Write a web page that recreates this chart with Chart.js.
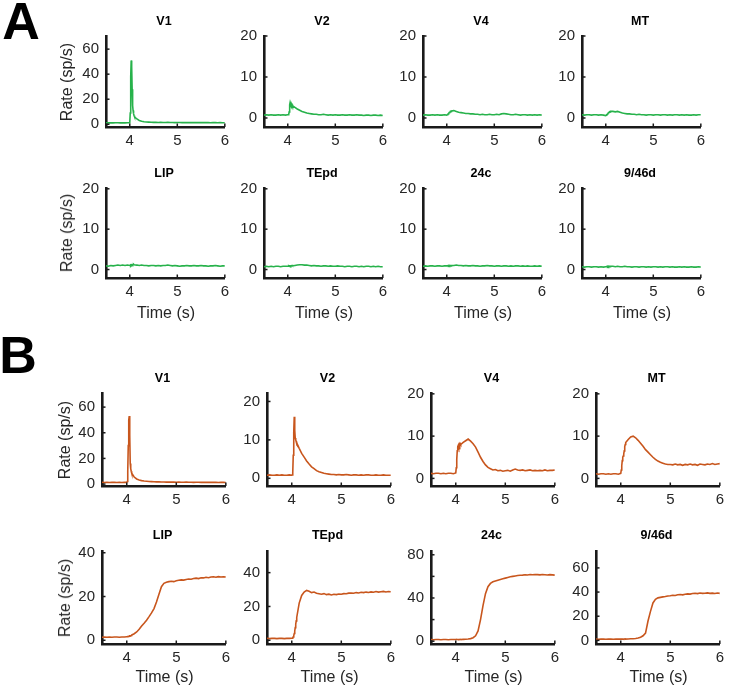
<!DOCTYPE html>
<html>
<head>
<meta charset="utf-8">
<script src="https://cdn.jsdelivr.net/npm/chart.js@4.4.0/dist/chart.umd.min.js"></script>
<style>
  body { margin: 0; background: #fff; width: 730px; height: 689px; position: relative; overflow: hidden;
         font-family: "Liberation Sans", Arial, sans-serif; }
  .box { position: absolute; }
  .txt { position: absolute; color: #262626; white-space: nowrap; transform: translate(-50%, -50%); line-height: 1; }
  .ttl { font-weight: bold; font-size: 12.5px; color: #000; }
  .axt { font-size: 16px; }
  .rot { transform: translate(-50%, -50%) rotate(-90deg); }
  .panel { font-weight: bold; font-size: 52px; color: #000; }
</style>
</head>
<body>
<script>
// time axis (s), shared by every trace
const time = [3.5,3.55,3.6,3.65,3.7,3.75,3.8,3.85,3.9,3.95,4.0,
  4.01,4.02,4.03,4.04,4.05,4.06,4.07,4.08,4.09,4.1,
  4.15,4.2,4.25,4.3,4.35,4.4,4.45,4.5,4.55,4.6,4.65,4.7,4.75,4.8,4.85,4.9,4.95,5.0,
  5.05,5.1,5.15,5.2,5.25,5.3,5.35,5.4,5.45,5.5,5.55,5.6,5.65,5.7,5.75,5.8,5.85,5.9,5.95,6.0];

const areas = ["V1", "V2", "V4", "MT", "LIP", "TEpd", "24c", "9/46d"];

// panel A rates (sp/s)
const aV1 = [1.2,1.1,1.2,1.1,1.2,1.2,1.1,1.2,1.1,1.2,1.3,
  9,38,51,46,28,15,11,8.5,7,6,
  4.2,3.0,2.4,2.0,1.8,1.7,1.6,1.5,1.5,1.4,1.5,1.4,1.4,1.5,1.4,1.4,1.3,1.4,1.4,1.3,
  1.4,1.3,1.4,1.3,1.3,1.4,1.3,1.3,1.4,1.3,1.3,1.2,1.3,1.3,1.2,1.3,1.2,1.2];
const aV2 = [0.7,0.8,0.7,0.8,0.7,0.7,0.8,0.7,0.8,0.7,0.8,
  0.8,0.9,1.5,3.2,3.8,3.4,3.6,3.2,3.3,3.0,
  2.6,2.2,1.9,1.6,1.4,1.2,1.1,1.0,0.9,0.9,0.8,0.8,0.9,0.8,0.7,0.8,0.7,0.8,0.7,0.7,
  0.8,0.7,0.7,0.8,0.7,0.7,0.8,0.7,0.7,0.6,0.7,0.7,0.6,0.7,0.7,0.6,0.7,0.6];
const aV4 = [0.7,0.8,0.7,0.7,0.8,0.7,0.8,0.7,0.7,0.8,0.7,
  0.8,0.9,1.0,1.1,1.3,1.4,1.5,1.6,1.6,1.7,
  1.8,1.6,1.4,1.3,1.2,1.1,1.1,1.0,1.0,0.9,0.9,0.8,0.9,0.8,0.8,0.9,0.8,0.8,0.9,0.8,
  1.0,1.1,1.0,0.9,0.8,0.8,0.9,0.8,0.7,0.8,0.8,0.7,0.8,0.7,0.8,0.7,0.8,0.7];
const aMT = [0.8,0.7,0.8,0.8,0.7,0.8,0.8,0.7,0.8,0.7,0.6,
  0.7,0.8,0.9,1.0,1.2,1.3,1.4,1.5,1.5,1.6,
  1.6,1.5,1.6,1.4,1.2,1.1,1.0,1.0,0.9,0.9,0.8,0.9,0.8,0.8,0.7,0.8,0.8,0.7,0.8,0.8,
  0.7,0.8,0.8,0.7,0.8,0.7,0.8,0.8,0.7,0.8,0.7,0.8,0.7,0.7,0.8,0.7,0.8,0.8];
const aLIP = [0.9,0.8,1.0,0.9,1.0,1.1,1.0,1.1,1.0,1.1,1.0,
  1.1,1.0,1.2,1.1,1.2,1.1,1.2,1.3,1.2,1.2,
  1.1,1.0,1.1,1.0,1.0,0.9,1.0,1.0,0.9,1.0,0.9,1.0,1.0,1.1,1.0,0.9,1.0,0.9,0.8,0.9,
  0.9,1.0,0.9,0.9,1.0,0.9,0.9,1.0,0.9,0.9,0.8,0.9,0.9,1.0,0.9,0.8,0.9,0.9];
const aTEpd = [0.7,0.8,0.7,0.8,0.7,0.8,0.8,0.7,0.8,0.8,0.8,
  0.8,0.9,0.8,0.9,0.9,0.8,0.9,0.9,1.0,0.9,
  1.0,1.1,1.2,1.2,1.1,1.1,1.0,0.9,1.0,0.9,0.9,0.8,0.9,0.9,0.8,0.9,0.8,0.8,0.9,0.8,
  0.8,0.7,0.8,0.8,0.7,0.8,0.8,0.7,0.8,0.7,0.8,0.8,0.7,0.8,0.7,0.8,0.7,0.7];
const a24c = [0.8,0.9,0.8,0.9,0.9,0.8,0.9,0.9,0.8,0.9,0.9,
  0.9,0.9,1.0,0.9,1.0,0.9,1.0,1.0,0.9,1.0,
  1.0,1.1,1.0,1.0,0.9,1.0,0.9,0.9,1.0,0.9,0.9,0.8,0.9,0.9,1.0,0.9,0.9,0.8,0.9,0.9,
  0.8,0.9,0.9,0.8,0.9,0.8,0.9,0.9,0.8,0.9,0.8,0.9,0.8,0.8,0.9,0.8,0.9,0.8];
const a946d = [0.7,0.6,0.7,0.7,0.6,0.7,0.7,0.6,0.7,0.6,0.7,
  0.7,0.7,0.8,0.7,0.8,0.7,0.8,0.8,0.7,0.8,
  0.8,0.7,0.8,0.7,0.7,0.8,0.7,0.7,0.6,0.7,0.7,0.6,0.7,0.7,0.6,0.7,0.6,0.7,0.7,0.6,
  0.7,0.6,0.7,0.7,0.6,0.7,0.6,0.6,0.7,0.6,0.7,0.6,0.6,0.7,0.6,0.6,0.7,0.6];

// panel B rates (sp/s)
const bV1 = [1.3,1.2,1.3,1.2,1.3,1.3,1.2,1.3,1.2,1.3,1.3,
  2,10,30,50,53,38,16,12,10,8.5,
  5.5,4.0,3.2,2.7,2.4,2.2,2.0,1.9,1.8,1.7,1.7,1.6,1.6,1.5,1.6,1.5,1.5,1.4,1.5,1.4,
  1.4,1.5,1.4,1.4,1.3,1.4,1.4,1.3,1.4,1.3,1.3,1.4,1.3,1.3,1.2,1.3,1.3,1.2];
const bV2 = [0.8,0.9,0.8,0.8,0.9,0.8,0.9,0.8,0.8,0.9,0.8,
  0.9,1.5,6,12,16,12.5,10.5,10,9.6,9.2,
  7.8,6.5,5.5,4.5,3.7,3.0,2.5,2.0,1.7,1.5,1.3,1.2,1.1,1.0,1.0,0.9,1.0,0.9,0.9,1.0,
  0.9,0.8,0.9,0.9,0.8,0.9,0.8,0.9,0.9,0.8,0.8,0.9,0.8,0.8,0.9,0.8,0.8,0.8];
const bV4 = [1.2,1.1,1.2,1.2,1.1,1.2,1.1,1.2,1.2,1.1,1.3,
  2.5,4.5,6.5,7.5,7.8,7.4,8.0,7.7,8.2,8.0,
  8.5,8.9,9.3,8.8,8.2,7.4,6.2,5.0,4.0,3.2,2.6,2.3,2.0,2.1,1.8,1.9,1.7,1.8,1.9,1.7,
  2.0,2.2,2.0,1.9,2.0,1.8,1.9,2.0,1.8,1.9,1.8,1.9,1.8,2.0,1.8,1.9,1.9,2.0];
const bMT = [1.1,1.0,1.1,1.1,1.0,1.1,1.0,1.1,1.1,1.0,1.2,
  2.0,3.0,4.2,5.0,5.3,5.8,6.5,7.5,8.0,8.5,
  9.2,9.8,10.0,9.6,9.0,8.3,7.6,6.8,6.2,5.6,5.0,4.5,4.1,3.8,3.6,3.4,3.3,3.3,3.2,3.4,
  3.2,3.3,3.1,3.3,3.2,3.4,3.2,3.3,3.1,3.4,3.3,3.2,3.4,3.3,3.5,3.3,3.4,3.5];
const bLIP = [1.4,1.5,1.4,1.5,1.4,1.5,1.5,1.4,1.5,1.5,1.6,
  1.6,1.7,1.7,1.8,1.9,2.0,2.0,2.1,2.2,2.4,
  3.0,3.8,5.0,6.5,7.8,9.2,10.8,12.5,14.5,17.5,21,24.5,26.0,26.5,26.8,27.0,26.8,27.2,27.4,27.6,
  27.5,27.8,28.0,27.9,28.2,28.4,28.2,28.6,28.5,28.8,28.6,28.9,29.0,28.8,29.1,28.9,29.0,28.9];
const bTEpd = [1.1,1.0,1.1,1.1,1.0,1.1,1.1,1.0,1.1,1.1,1.2,
  1.3,1.5,2.0,2.8,4.0,5.5,7.5,9.5,11.5,13.5,
  22,26.5,28.5,29.5,29,28.2,28.5,27.8,27.5,27.2,27.6,27.0,27.3,26.8,27.2,27.0,27.4,27.2,27.6,27.5,
  27.9,28.0,27.8,28.2,28.0,28.4,28.2,28.5,28.3,28.6,28.4,28.8,28.5,28.7,28.9,28.6,28.8,28.7];
const b24c = [1.5,1.4,1.5,1.5,1.4,1.5,1.5,1.4,1.5,1.5,1.5,
  1.5,1.6,1.5,1.6,1.6,1.5,1.6,1.6,1.7,1.6,
  1.7,1.8,2.0,2.4,3.2,5.0,9.5,20,33,44,50.5,53.5,55,55.8,56.5,57.2,57.8,58.4,59.0,59.6,
  60.0,60.4,60.8,61.0,61.2,61.5,61.3,61.7,61.5,61.8,61.6,61.4,61.7,61.5,61.3,61.6,61.4,61.2];
const b946d = [1.0,0.9,1.0,1.0,0.9,1.0,1.0,0.9,1.0,1.0,1.0,
  1.0,1.1,1.0,1.1,1.1,1.0,1.1,1.1,1.2,1.1,
  1.2,1.3,1.4,1.6,2.0,2.6,3.8,6.0,16,24,31,34,35.2,35.6,36.0,36.3,36.8,37.0,37.4,37.2,
  37.8,38.0,37.7,38.2,38.5,38.3,38.8,39.0,38.7,39.2,38.9,39.0,39.3,38.9,39.1,38.8,39.2,38.9];

const seriesA = [aV1, aV2, aV4, aMT, aLIP, aTEpd, a24c, a946d];
const seriesB = [bV1, bV2, bV4, bMT, bLIP, bTEpd, b24c, b946d];

// axis ranges and ticks
const xTicks = [4, 5, 6];
const yRangeA = [[-2.2, 70.5], [-2.2, 20], [-2.2, 20], [-2.2, 20], [-2.1, 20.2], [-2.1, 20.2], [-2.1, 20.2], [-2.1, 20.2]];
const yTicksA = [[0, 20, 40, 60], [0, 10, 20], [0, 10, 20], [0, 10, 20], [0, 10, 20], [0, 10, 20], [0, 10, 20], [0, 10, 20]];
const yRangeB = [[-1.5, 71], [-2, 22.2], [-1.8, 20.2], [-1.8, 20.2], [-1.7, 40.8], [-2.2, 52.8], [-2.6, 83.5], [-3, 74]];
const yTicksB = [[0, 20, 40, 60], [0, 10, 20], [0, 10, 20], [0, 10, 20], [0, 20, 40], [0, 20, 40], [0, 20, 40, 60, 80], [0, 20, 40, 60]];
const yLabelsB = [[0, 20, 40, 60], [0, 10, 20], [0, 10, 20], [0, 10, 20], [0, 20, 40], [0, 20, 40], [0, 40, 80], [0, 20, 40, 60]];

const green = '#27b24b';
const orange = '#c8561d';
const axisColor = '#1a1a1a';
const tickFont = { family: '"Liberation Sans", Arial, sans-serif', size: 15 };

// small inward tick marks like the original figure
const inTicks = {
  id: 'inTicks',
  afterDraw(chart) {
    const { ctx, chartArea, scales } = chart;
    ctx.save();
    ctx.strokeStyle = axisColor;
    ctx.lineWidth = 1.5;
    scales.x.ticks.forEach(t => {
      const px = scales.x.getPixelForValue(t.value);
      ctx.beginPath(); ctx.moveTo(px, chartArea.bottom); ctx.lineTo(px, chartArea.bottom - 3.5); ctx.stroke();
    });
    scales.y.ticks.forEach(t => {
      const py = scales.y.getPixelForValue(t.value);
      ctx.beginPath(); ctx.moveTo(chartArea.left, py); ctx.lineTo(chartArea.left + 3.5, py); ctx.stroke();
    });
    ctx.restore();
  }
};

function addText(cls, text, x, y) {
  const d = document.createElement('div');
  d.className = 'txt ' + cls;
  d.textContent = text;
  d.style.left = x + 'px';
  d.style.top = y + 'px';
  document.body.appendChild(d);
}

function makePlot(left, top, w, h, values, color, yr, yt, yl) {
  const padL = 40, padT = 10, padR = 8, padB = 30;
  const box = document.createElement('div');
  box.className = 'box';
  box.style.left = (left - padL) + 'px';
  box.style.top = (top - padT) + 'px';
  box.style.width = (w + padL + padR) + 'px';
  box.style.height = (h + padT + padB) + 'px';
  const cv = document.createElement('canvas');
  box.appendChild(cv);
  document.body.appendChild(box);

  new Chart(cv, {
    type: 'line',
    data: {
      datasets: [{
        data: time.map((t, i) => ({ x: t, y: values[i] })),
        borderColor: color,
        borderWidth: 1.6,
        pointRadius: 0,
        tension: 0
      }]
    },
    options: {
      responsive: true,
      maintainAspectRatio: false,
      animation: false,
      layout: { padding: { top: padT, right: padR, left: 0, bottom: 0 } },
      plugins: { legend: { display: false }, tooltip: { enabled: false } },
      scales: {
        x: {
          type: 'linear', min: 3.5, max: 6,
          afterFit: s => { s.height = padB; },
          afterBuildTicks: s => { s.ticks = xTicks.map(v => ({ value: v })); },
          ticks: { font: tickFont, color: '#262626', padding: 5, maxRotation: 0, autoSkip: false },
          grid: { display: false, drawTicks: false },
          border: { display: true, color: axisColor, width: 2.6 }
        },
        y: {
          min: yr[0], max: yr[1],
          afterFit: s => { s.width = padL; },
          afterBuildTicks: s => { s.ticks = yt.map(v => ({ value: v })); },
          ticks: {
            font: tickFont, color: '#262626', padding: 7, autoSkip: false,
            callback: v => (yl.includes(v) ? String(v) : '')
          },
          grid: { display: false, drawTicks: false },
          border: { display: true, color: axisColor, width: 2.6 }
        }
      }
    },
    plugins: [inTicks]
  });
}

// panel A
const colsA = [106, 264, 423, 582], wA = 120;
const rowsA = [[30, 97, 20.5], [182, 96, 172.5]];
// panel B
const colsB = [102, 267, 431, 596], wB = 125;
const rowsB = [[387, 99, 378], [545, 99, 535]];

for (let i = 0; i < 8; i++) {
  const c = i % 4, r = Math.floor(i / 4);
  // A
  let [top, h, ty] = rowsA[r];
  makePlot(colsA[c], top, wA, h, seriesA[i], green, yRangeA[i], yTicksA[i], yTicksA[i]);
  addText('ttl', areas[i], colsA[c] + wA / 2 - 2, ty);
  if (r === 1) addText('axt', 'Time (s)', colsA[c] + wA / 2, 313);
  if (c === 0) addText('axt rot', 'Rate (sp/s)', 67, top + h / 2 + 3);
  // B
  [top, h, ty] = rowsB[r];
  makePlot(colsB[c], top, wB, h, seriesB[i], orange, yRangeB[i], yTicksB[i], yLabelsB[i]);
  addText('ttl', areas[i], colsB[c] + wB / 2 - 2, ty);
  if (r === 1) addText('axt', 'Time (s)', colsB[c] + wB / 2, 677);
  if (c === 0) addText('axt rot', 'Rate (sp/s)', 65, top + h / 2 + 3);
}

addText('panel', 'A', 21, 21);
addText('panel', 'B', 18, 355);
</script>
</body>
</html>
